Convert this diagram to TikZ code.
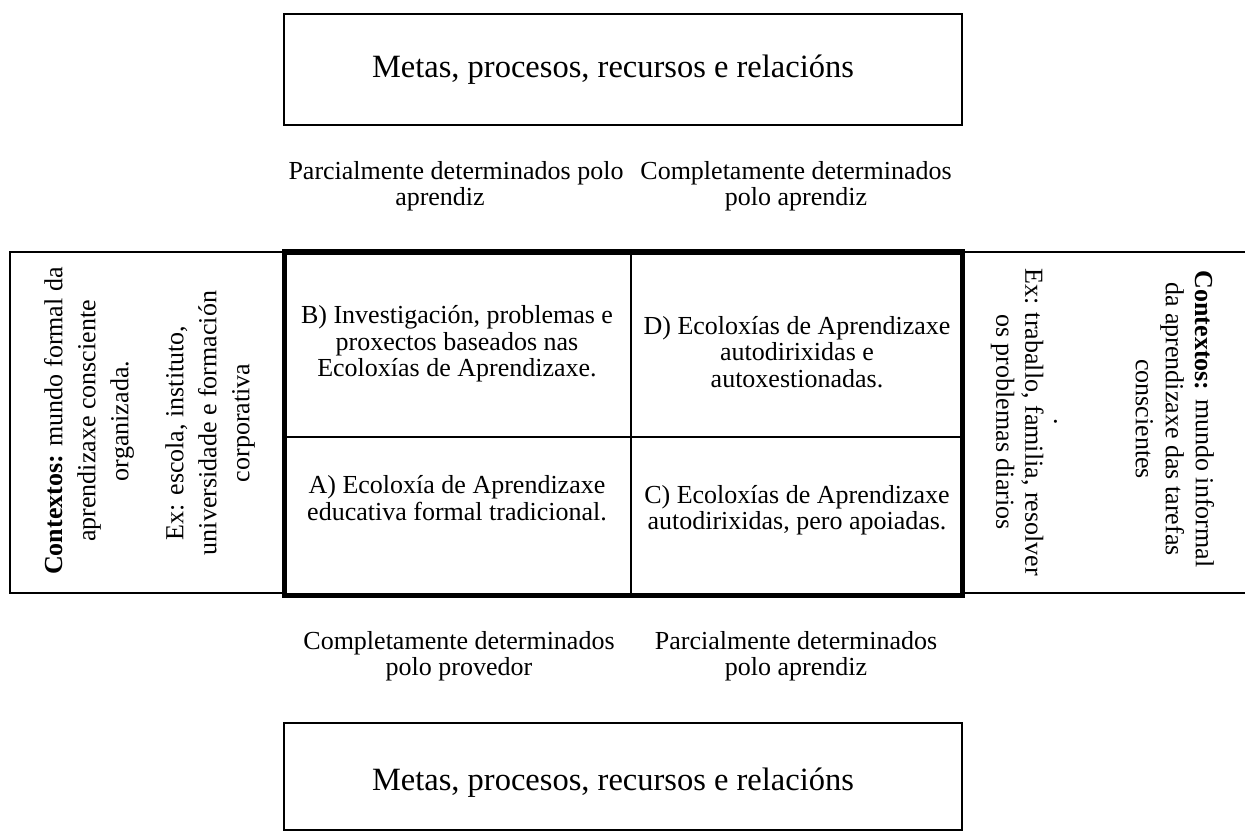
\documentclass[tikz,border=0pt]{standalone}
\usepackage{fontspec}
\setmainfont{Liberation Serif}
\begin{document}
\begin{tikzpicture}[x=1pt,y=-1pt,
  thinrule/.style={line width=2pt},
  thickrule/.style={line width=5pt},
  body/.style={font=\fontsize{26}{26.5}\selectfont, align=center, inner sep=0pt},
  sidetext/.style={font=\fontsize{26}{33}\selectfont, align=center, inner sep=0pt},
  headtext/.style={font=\fontsize{32.5}{36}\selectfont, align=center, inner sep=0pt}]
\useasboundingbox (0,0) rectangle (1245,837);

% top and bottom boxes
\draw[thinrule] (284,14) rectangle (962,125);
\node[headtext] (goalsTop) at (613,70) {Metas, procesos, recursos e relacións};
\draw[thinrule] (284,723) rectangle (962,830);
\node[headtext] (goalsBot) at (613,783) {Metas, procesos, recursos e relacións};

% axis labels
\node[body] (labTL) at (456,186) {Parcialmente determinados polo\\aprendiz\hspace*{32pt}};
\node[body] (labTR) at (796,186) {Completamente determinados\\polo aprendiz};
\node[body] (labBL) at (459,656) {Completamente determinados\\polo provedor};
\node[body] (labBR) at (796,656) {Parcialmente determinados\\polo aprendiz};

% side panels
\draw[thinrule] (10,252) rectangle (284,593);
\draw[thinrule] (1245,252) -- (962,252);
\draw[thinrule] (962,593) -- (1245,593);

\node[sidetext, rotate=90] (ctxFormal) at (89,421)
  {\textbf{Contextos:} mundo formal da\\aprendizaxe consciente\\organizada.};
\node[sidetext, rotate=90] (exFormal) at (210,423)
  {Ex: escola, instituto,\hspace*{20pt}\\universidade e formación\\corporativa};
\node[sidetext, rotate=-90, font=\fontsize{26}{30}\selectfont] (ctxInformal) at (1175,419)
  {\textbf{Contextos:} mundo informal\\da aprendizaxe das tarefas\\conscientes};
\node[sidetext, rotate=-90, font=\fontsize{26}{29}\selectfont] (exInformal) at (1024,422)
  {.\\Ex: traballo, familia, resolver\\os problemas diarios};

% quadrant grid
\draw[thinrule] (631,252) -- (631,595);
\draw[thinrule] (284,437) -- (962,437);
\draw[thickrule] (284,252) rectangle (962,595);

\node[body] (cellB) at (457,344)
  {B) Investigación, problemas e\\proxectos baseados nas\\Ecoloxías de Aprendizaxe.};
\node[body] (cellD) at (797,352)
  {D) Ecoloxías de Aprendizaxe\\autodirixidas e\\autoxestionadas.};
\node[body] (cellA) at (457,498)
  {A) Ecoloxía de Aprendizaxe\\educativa formal tradicional.};
\node[body] (cellC) at (797,510)
  {C) Ecoloxías de Aprendizaxe\\autodirixidas, pero apoiadas.};
\end{tikzpicture}
\end{document}
